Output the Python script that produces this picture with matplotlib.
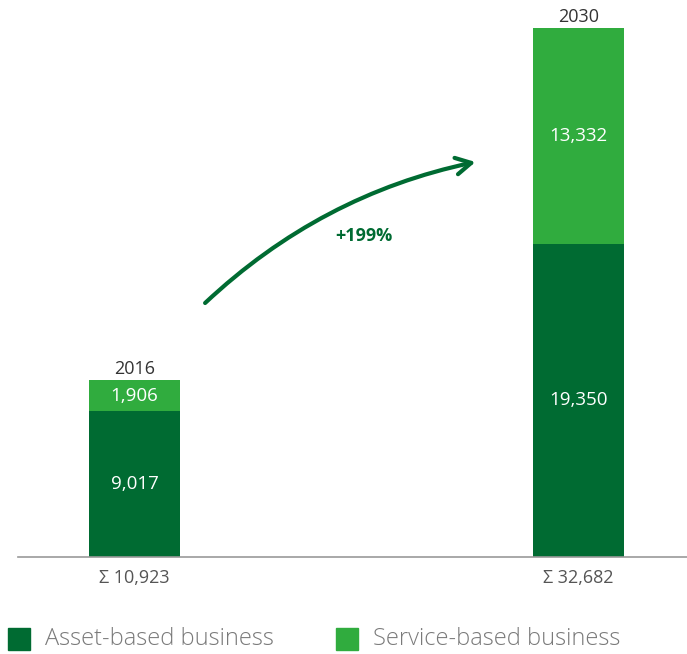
import matplotlib.pyplot as plt
from matplotlib.patches import FancyArrowPatch, Rectangle

years = ["2016", "2030"]
asset_based = [9017, 19350]
service_based = [1906, 13332]
growth_label = "+199%"
legend_labels = ["Asset-based business", "Service-based business"]

dark_green = "#006B32"
light_green = "#30AC3E"

plt.rcParams["font.family"] = ["Open Sans", "DejaVu Sans"]

W, H = 687, 654
fig = plt.figure(figsize=(W / 100, H / 100), dpi=100)
ax = fig.add_axes([18 / W, (H - 557) / H, 669 / W, 557 / H])

x = [0, 1]
width = 0.205
totals = [a + s for a, s in zip(asset_based, service_based)]
px = 32682 / 529  # data units per pixel

ax.bar(x, asset_based, width=width, color=dark_green)
ax.bar(x, service_based, width=width, bottom=asset_based, color=light_green)

for i in range(len(x)):
    ax.text(x[i], asset_based[i] / 2, f"{asset_based[i]:,}", ha="center",
            va="center", color="white", fontsize=13.5)
    ax.text(x[i], asset_based[i] + service_based[i] / 2, f"{service_based[i]:,}",
            ha="center", va="center", color="white", fontsize=13.5)
    ax.text(x[i], totals[i] + 11 * px, years[i], ha="center", va="center",
            color="#333333", fontsize=13)
    ax.text(x[i], -21 * px, f"\u03a3 {totals[i]:,}", ha="center", va="center",
            color="#555555", fontsize=13)

# growth arrow between the bars
arrow = FancyArrowPatch((0.159, 254 * px), (0.768, 395 * px),
                        connectionstyle="arc3,rad=-0.14",
                        arrowstyle="->,head_length=11,head_width=6", color=dark_green,
                        lw=3.0, capstyle="round", joinstyle="round",
                        shrinkA=0, shrinkB=0)
ax.add_patch(arrow)
ax.text(0.517, 321 * px, growth_label, ha="center", va="center", color=dark_green,
        fontsize=13, fontweight="bold")

ax.set_xlim(-0.2624, 1.2444)
ax.set_ylim(0, 557 * px)
for side in ["top", "right", "left"]:
    ax.spines[side].set_visible(False)
ax.spines["bottom"].set_color("#999999")
ax.spines["bottom"].set_linewidth(1.2)
ax.set_xticks([])
ax.set_yticks([])

# legend
legend_colors = [dark_green, light_green]
legend_x = [8, 336]
for lx, col, lab in zip(legend_x, legend_colors, legend_labels):
    fig.add_artist(Rectangle((lx / W, (H - 650) / H), 22 / W, 22 / H,
                             transform=fig.transFigure, color=col))
    fig.text((lx + 37) / W, (H - 639) / H, lab, ha="left", va="center",
             color="#7a7a7a", fontsize=17, fontweight="light")

fig.savefig("out.png", dpi=100)
